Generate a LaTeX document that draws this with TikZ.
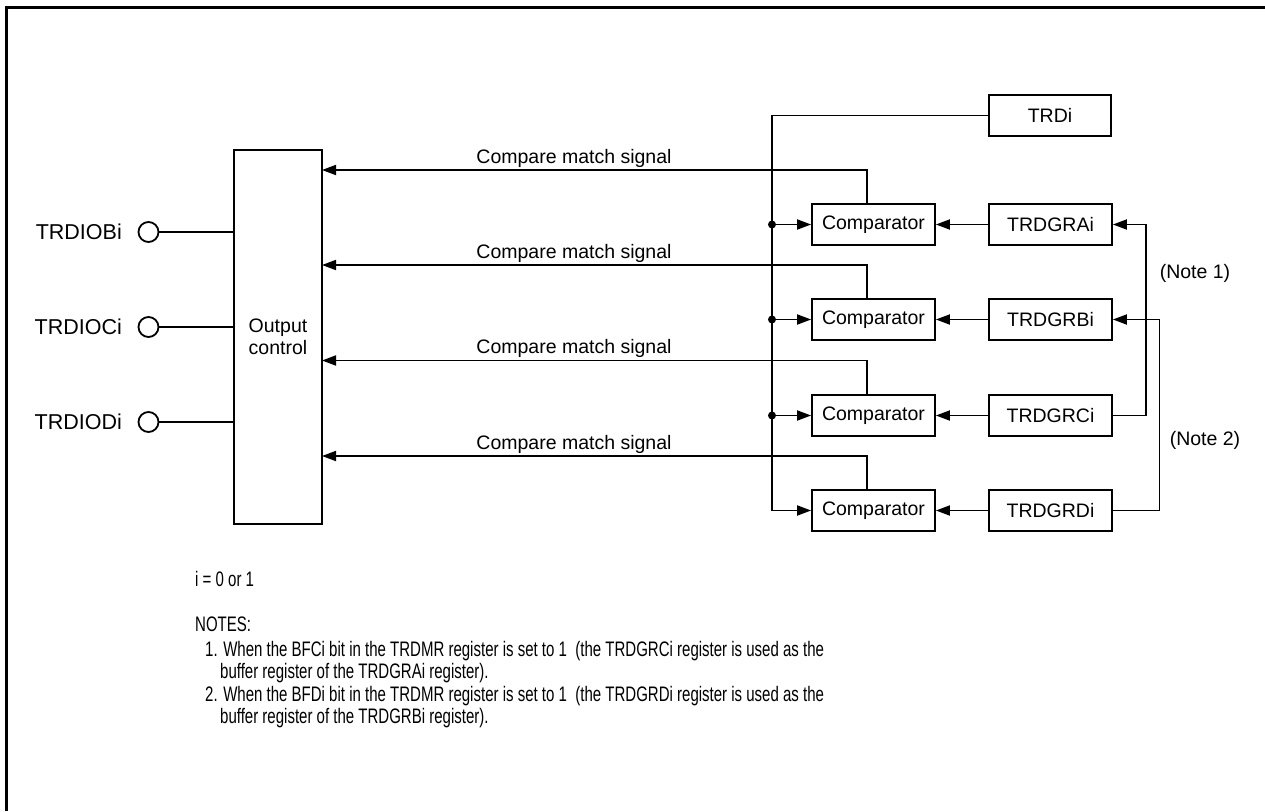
\documentclass[tikz,border=0pt]{standalone}
\usepackage{fontspec}
\setmainfont{Liberation Sans}
\newfontfamily\narrowfont[FakeStretch=0.715]{Liberation Sans}
\usetikzlibrary{arrows.meta}
\begin{document}
\begin{tikzpicture}[x=1pt,y=-1pt,
  lw/.style={line width=1.8pt},
  box/.style={draw,lw,inner sep=0pt,minimum width=123pt,minimum height=41pt,font=\fontsize{19.5}{22}\selectfont},
  arr/.style={lw,-{Triangle[length=14pt,width=10pt]}},
  lbl/.style={inner sep=0pt,font=\fontsize{19.5}{22}\selectfont},
  pinlbl/.style={inner sep=0pt,anchor=east,font=\fontsize{21.5}{24}\selectfont},
  note/.style={inner sep=0pt,anchor=base west,font=\narrowfont\fontsize{21}{23}\selectfont},
  pin/.style={draw,lw,circle,minimum size=20pt,inner sep=0pt},
  dot/.style={fill,circle,minimum size=8pt,inner sep=0pt}]
\useasboundingbox (0,0) rectangle (1265,811);
\draw[line width=3pt] (6.5,811) -- (6.5,7.5) -- (1265,7.5);

% output control
\node[draw,lw,inner sep=0pt,minimum width=88pt,minimum height=374pt,align=center,
  font=\fontsize{19.5}{22}\selectfont] (oc) at (278,337) {Output\\control};

% pins
\node[pin] (pb) at (148.5,232) {};
\node[pin] (pc) at (148.5,327) {};
\node[pin] (pd) at (148.5,422) {};
\node[pinlbl] (lb) at (122,232) {TRDIOBi};
\node[pinlbl] (lc) at (122,327) {TRDIOCi};
\node[pinlbl] (ld) at (122,422) {TRDIODi};
\draw[lw] (pb.east) -- (oc.west |- pb);
\draw[lw] (pc.east) -- (oc.west |- pc);
\draw[lw] (pd.east) -- (oc.west |- pd);

% TRDi
\node[box,minimum width=122pt] (trd) at (1050,115.5) {TRDi};

% comparators and registers
\node[box] (c1) at (873.5,224.5) {Comparator};
\node[box] (c2) at (873.5,319.5) {Comparator};
\node[box] (c3) at (873.5,415.5) {Comparator};
\node[box] (c4) at (873.5,510.5) {Comparator};
\node[box] (ra) at (1050.5,224.5) {TRDGRAi};
\node[box] (rb) at (1050.5,319.5) {TRDGRBi};
\node[box] (rc) at (1050.5,415.5) {TRDGRCi};
\node[box] (rd) at (1050.5,510.5) {TRDGRDi};

\draw[arr] (ra.west) -- (c1.east);
\draw[arr] (rb.west) -- (c2.east);
\draw[arr] (rc.west) -- (c3.east);
\draw[arr] (rd.west) -- (c4.east);

% bus from TRDi
\coordinate (bt) at (772,115.5);
\coordinate (bb) at (772,510.5);
\draw[lw] (trd.west) -- (bt) -- (bb);
\draw[arr] (bb) -- (c4.west);
\node[dot] (d1) at (772,224.5) {};
\node[dot] (d2) at (772,319.5) {};
\node[dot] (d3) at (772,415.5) {};
\draw[arr] (d1.center) -- (c1.west);
\draw[arr] (d2.center) -- (c2.west);
\draw[arr] (d3.center) -- (c3.west);

% compare match signals
\coordinate (m1) at (322,170);
\coordinate (m2) at (322,265);
\coordinate (m3) at (322,360.5);
\coordinate (m4) at (322,456);
\draw[arr] ([xshift=-6.5pt]c1.north) |- (m1);
\draw[arr] ([xshift=-6.5pt]c2.north) |- (m2);
\draw[arr] ([xshift=-6.5pt]c3.north) |- (m3);
\draw[arr] ([xshift=-6.5pt]c4.north) |- (m4);
\node[lbl,anchor=base] (s1) at (574,163) {Compare match signal};
\node[lbl,anchor=base] (s2) at (574,258) {Compare match signal};
\node[lbl,anchor=base] (s3) at (574,353.5) {Compare match signal};
\node[lbl,anchor=base] (s4) at (574,449) {Compare match signal};

% buffer notes
\coordinate (n1) at (1146,224.5);
\coordinate (n2) at (1159.5,319.5);
\draw[arr] (rc.east) -| (n1) -- (ra.east);
\draw[arr] (rd.east) -| (n2) -- (rb.east);
\node[lbl] (t1) at (1195,273) {(Note 1)};
\node[lbl] (t2) at (1205,440) {(Note 2)};

% notes text
\node[note] (i0) at (195,586) {i = 0 or 1};
\node[note] (nh) at (195,631.5) {NOTES:};
\node[note] (n11) at (205,656) {1. When the BFCi bit in the TRDMR register is set to 1\ \ (the TRDGRCi register is used as the};
\node[note] (n12) at (220,678.5) {buffer register of the TRDGRAi register).};
\node[note] (n21) at (205,701) {2. When the BFDi bit in the TRDMR register is set to 1\ \ (the TRDGRDi register is used as the};
\node[note] (n22) at (220,723.5) {buffer register of the TRDGRBi register).};
\end{tikzpicture}
\end{document}
